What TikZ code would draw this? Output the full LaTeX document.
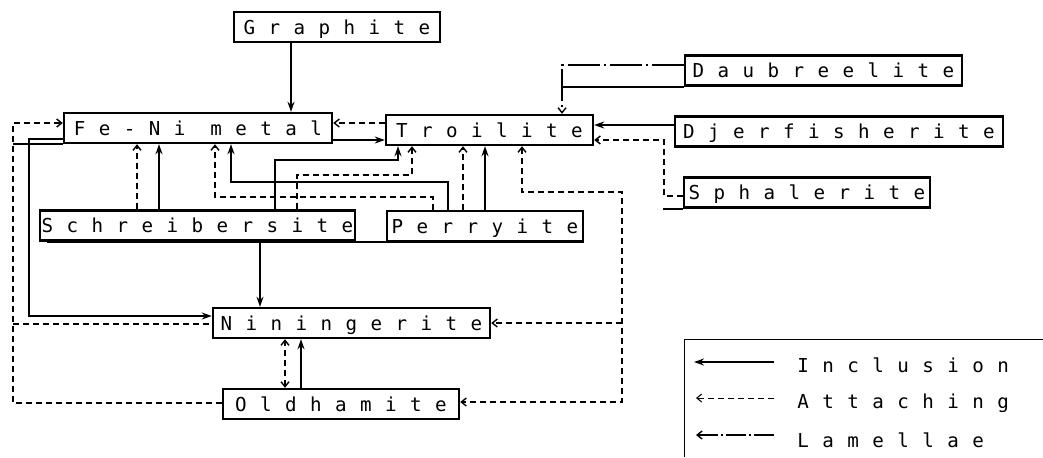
\documentclass[tikz,border=0pt]{standalone}
\usepackage{fontspec}
\newfontfamily\plotfont[LetterSpace=70]{DejaVu Sans Mono}
\usetikzlibrary{arrows.meta}

\begin{document}
\begin{tikzpicture}[
  x=0.5pt, y=-0.5pt,
  mineral/.style = {draw, line width=1.2pt, minimum height=15pt, inner sep=0pt,
                    text height=7pt, text depth=0pt, font=\plotfont\fontsize{9.6pt}{11pt}\selectfont},
  keytext/.style = {anchor=base west, inner sep=0pt, font=\plotfont\fontsize{9.6pt}{11pt}\selectfont},
  rule/.style = {line width=1.2pt},
  incl/.style = {line width=0.7pt, -{Stealth[length=5pt, width=3.5pt]}},
  attach/.style = {line width=0.7pt, dash pattern=on 3pt off 2pt, -{Straight Barb[length=2.5pt, width=4pt]}},
  dashes/.style = {line width=0.7pt, dash pattern=on 3pt off 2pt},
  lam/.style = {line width=0.7pt, dash pattern=on 16pt off 2pt on 1pt off 2pt, -{Straight Barb[length=2.5pt, width=4pt]}}
]
  \useasboundingbox (0,0) rectangle (1043,457);

  % Nodes
  \node[mineral, minimum width=103pt] (graphite) at (337,27) {Graphite};
  \node[mineral, minimum width=134pt] (feni) at (198,128) {Fe-Ni metal};
  \node[mineral, minimum width=103.5pt] (troilite) at (489.5,130) {Troilite};
  \node[mineral, minimum width=138.5pt] (daubreelite) at (823.5,70.5) {Daubreelite};
  \node[mineral, minimum width=164pt] (djerfisherite) at (839,131.5) {Djerfisherite};
  \node[mineral, minimum width=123pt] (sphalerite) at (807,192.5) {Sphalerite};
  \node[mineral, minimum width=157.5pt] (schreib) at (197.5,225.5) {Schreibersite};
  \node[mineral, minimum width=98pt] (perryite) at (485,226) {Perryite};
  \node[mineral, minimum width=138.5pt] (niningerite) at (351.5,323) {Niningerite};
  \node[mineral, minimum width=118pt] (oldhamite) at (341,404) {Oldhamite};

  % Box underlines
  \draw[rule] (feni.south west) -- (13,0 |- feni.south west);
  \draw[rule] (47,242) -- (perryite.south east |- 0,242);
  \draw[rule] (sphalerite.south west) -- (663,0 |- sphalerite.south west);
  \draw[rule] (daubreelite.south west) -- (562,0 |- daubreelite.south west);

  % Connections
  \draw[incl] (291,0 |- graphite.south) -- (291,0 |- feni.north);
  \draw[attach] (troilite.west |- 0,123) -- (feni.east |- 0,123);
  \draw[incl] (feni.east |- 0,140) -- (troilite.west |- 0,140);
  \draw[lam] (daubreelite.west |- 0,65) -| (562,0 |- troilite.north);
  \draw[incl] (djerfisherite.west |- 0,125) -- (troilite.east |- 0,125);
  \draw[attach] (sphalerite.west |- 0,196) -- (664,196) |- (troilite.east |- 0,140);

  % Schreibersite and Perryite
  \draw[attach] (137,0 |- schreib.north) -- (137,0 |- feni.south);
  \draw[incl] (159,0 |- schreib.north) -- (159,0 |- feni.south);
  \draw[attach] (463,0 |- perryite.north) -- (463,0 |- troilite.south);
  \draw[incl] (485,0 |- perryite.north) -- (485,0 |- troilite.south);
  \draw[incl] (448,0 |- perryite.north) |- (231,182) -- (231,0 |- feni.south);
  \draw[attach] (433,0 |- perryite.north) |- (215,197) -- (215,0 |- feni.south);
  \draw[incl] (275,0 |- schreib.north) |- (398,160) -- (398,0 |- troilite.south);
  \draw[attach] (297,0 |- schreib.north) |- (412,175) -- (412,0 |- troilite.south);
  \draw[incl] (260,0 |- schreib.south) -- (260,0 |- niningerite.north);

  % Troilite to Niningerite and Oldhamite
  \coordinate (split) at (622,323);
  \draw[attach, {Straight Barb[length=2.5pt, width=4pt]}-{Straight Barb[length=2.5pt, width=4pt]}]
    (522,0 |- troilite.south) |- (622,192) |- (oldhamite.east |- 0,402);
  \draw[attach] (split) -- (niningerite.east |- split);

  % Left side
  \draw[incl] (feni.west |- 0,139) -- (29,139) |- (niningerite.west |- 0,316);
  \draw[attach] (oldhamite.west |- 0,403) -| (13,123) -- (feni.west |- 0,123);
  \draw[dashes] (13,324) -- (niningerite.west |- 0,324);

  % Niningerite and Oldhamite
  \draw[attach, {Straight Barb[length=2.5pt, width=4pt]}-{Straight Barb[length=2.5pt, width=4pt]}]
    (285,0 |- oldhamite.north) -- (285,0 |- niningerite.south);
  \draw[incl] (301,0 |- oldhamite.north) -- (301,0 |- niningerite.south);

  % Legend
  \draw[line width=0.5pt] (684,457) |- (1043,339);
  \node[keytext] (kincl) at (797,372) {Inclusion};
  \node[keytext] (kattach) at (797,408) {Attaching};
  \node[keytext] (klam) at (797,447) {Lamellae};
  \draw[incl, line width=1pt] (774,362) -- (694,362);
  \draw[attach, line width=0.5pt] (774,398) -- (696,398);
  \draw[lam, line width=0.7pt, dash pattern=on 10pt off 1.5pt on 1pt off 1.5pt] (774,435) -- (696,435);
\end{tikzpicture}
\end{document}
